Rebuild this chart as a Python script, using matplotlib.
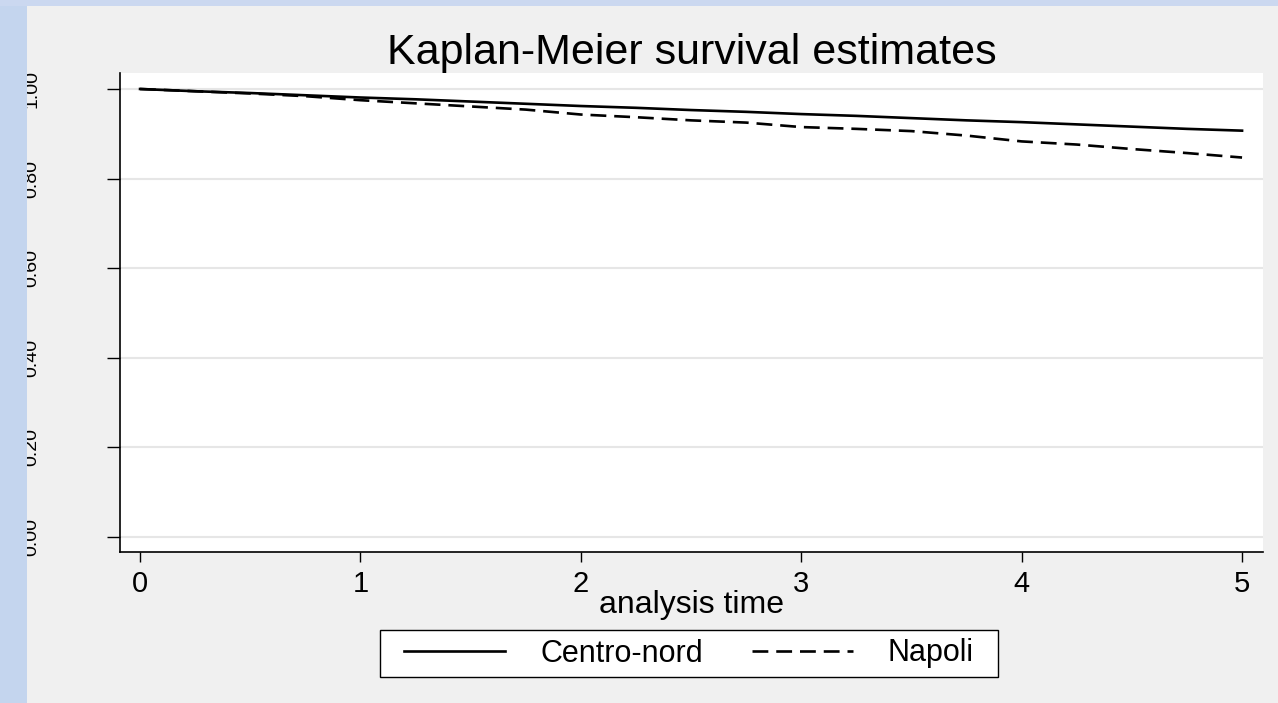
import matplotlib
matplotlib.use("Agg")
import matplotlib.pyplot as plt
from matplotlib.patches import Rectangle

# analysis time (years) and Kaplan-Meier estimates
time = [0, 0.25, 0.5, 0.75, 1.0, 1.25, 1.5, 1.75, 2.0, 2.25, 2.5,
        2.75, 3.0, 3.25, 3.5, 3.75, 4.0, 4.25, 4.5, 4.75, 5.0]
centro_nord = [1.000, 0.995, 0.991, 0.986, 0.981, 0.977, 0.972, 0.967, 0.962, 0.958, 0.953,
               0.949, 0.944, 0.940, 0.935, 0.930, 0.926, 0.921, 0.916, 0.911, 0.907]
napoli = [1.000, 0.995, 0.990, 0.984, 0.975, 0.968, 0.961, 0.954, 0.943, 0.937, 0.930,
          0.925, 0.915, 0.911, 0.906, 0.896, 0.883, 0.876, 0.866, 0.857, 0.847]

x_ticks = [0, 1, 2, 3, 4, 5]
y_ticks = [0.0, 0.2, 0.4, 0.6, 0.8, 1.0]
y_labels = ["0.00", "0.20", "0.40", "0.60", "0.80", "1.00"]

plt.rcParams['font.family'] = ['Liberation Sans', 'DejaVu Sans']

W, H = 1278, 703
fig = plt.figure(figsize=(W / 100, H / 100), dpi=100, facecolor='#f0f0f0')
ax = fig.add_axes([120 / W, 1 - 552 / H, (1263 - 120) / W, (552 - 73) / H])
ax.set_facecolor('white')

ax.plot(time, centro_nord, color='black', lw=1.9, label='Centro-nord')
ax.plot(time, napoli, color='black', lw=1.9, linestyle=(0, (6, 3)), label='Napoli')

ax.set_xlim(-0.091, 5.095)
ax.set_ylim(-0.0335, 1.0357)
ax.set_xticks(x_ticks)
ax.set_yticks(y_ticks)
ax.set_yticklabels(y_labels, rotation=90, va='center')
ax.grid(axis='y', color='#e6e6e6', lw=1.5)
ax.set_axisbelow(True)

for s in ['top', 'right']:
    ax.spines[s].set_visible(False)
for s in ['left', 'bottom']:
    ax.spines[s].set_linewidth(1.2)

ax.tick_params(axis='x', length=7, width=1, pad=6, labelsize=21)
ax.tick_params(axis='y', length=9.5, width=1, pad=48, labelsize=14)

ax.set_xlabel('analysis time', fontsize=23, labelpad=-6)
ax.set_title('Kaplan-Meier survival estimates', fontsize=31, pad=5)

# legend box drawn by hand so the side padding can be wider than the top/bottom
fig.add_artist(Rectangle((380 / W, 1 - 677 / H), 618 / W, 47 / H, transform=fig.transFigure,
                         facecolor='white', edgecolor='black', lw=1.0, zorder=5))
leg = fig.legend(loc='center', bbox_to_anchor=(689 / W, 1 - 653.5 / H), ncol=2,
                 fontsize=22, frameon=False, handlelength=3.3, handletextpad=1.15,
                 columnspacing=1.6, borderpad=0.2)
leg.set_zorder(6)

# bluish frame stripes on the left and top edges
fig.add_artist(Rectangle((0, 0), 27 / W, 1, transform=fig.transFigure,
                         facecolor='#c4d5ee', edgecolor='none', zorder=10))
fig.add_artist(Rectangle((0, 1 - 6 / H), 1, 6 / H, transform=fig.transFigure,
                         facecolor='#cbd8f0', edgecolor='none', zorder=10))

fig.savefig('out.png', dpi=100, facecolor=fig.get_facecolor())
